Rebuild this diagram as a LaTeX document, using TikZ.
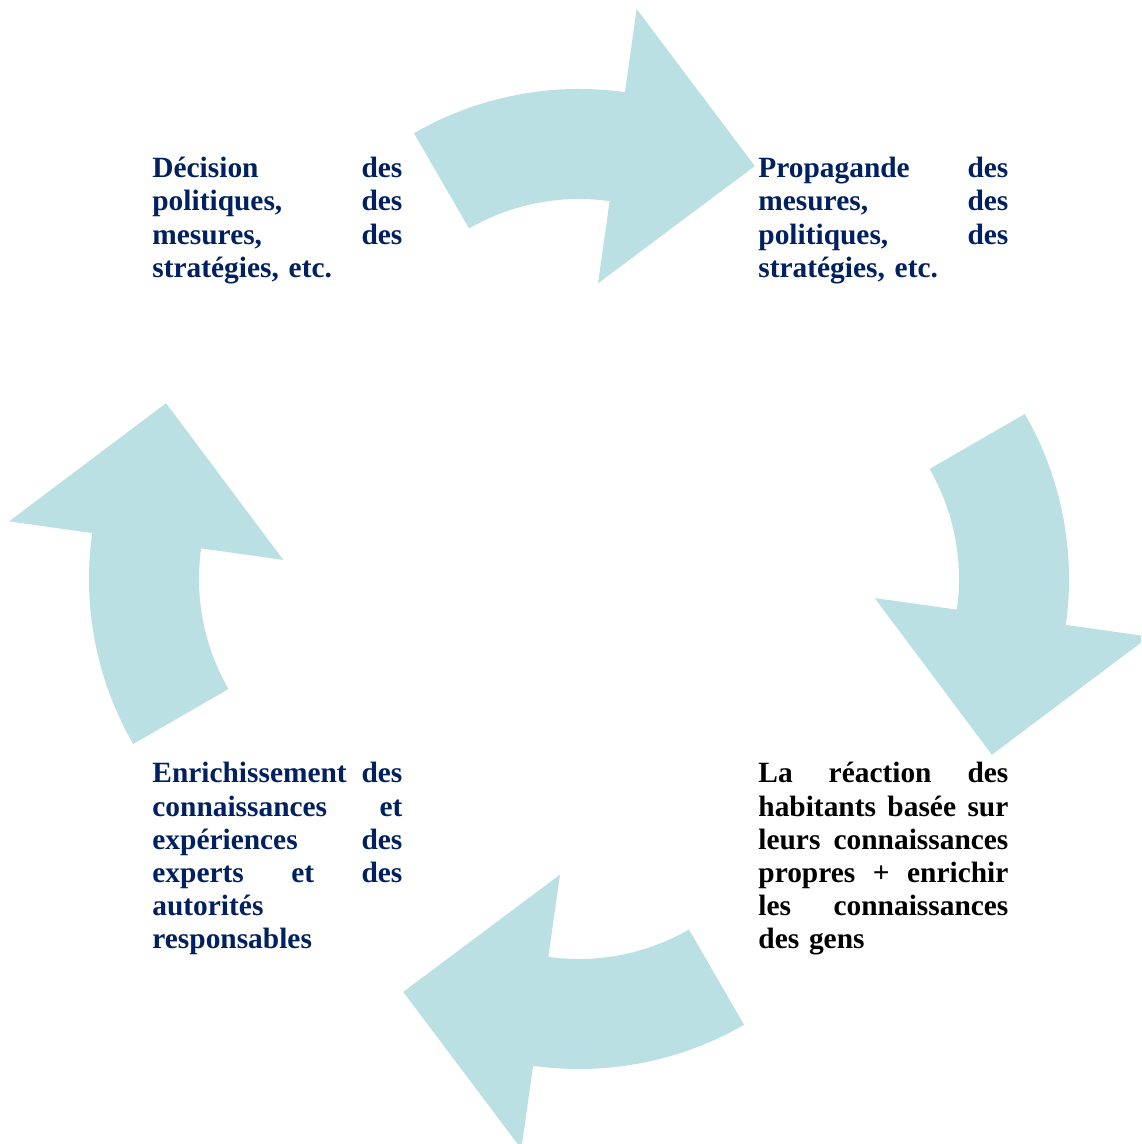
\documentclass[tikz,border=0pt]{standalone}
\usepackage{fontspec}
\setmainfont{Liberation Serif}
\usetikzlibrary{calc}
\definecolor{arrowteal}{RGB}{187,224,227}
\definecolor{navytext}{RGB}{0,32,96}
\setlength{\parindent}{0pt}
\begin{document}
\begin{tikzpicture}[x=0.5pt,y=0.5pt,
  arrowfill/.style={fill=arrowteal},
  cyclearrow/.pic={\fill[arrowfill] (120:330) arc[start angle=120,end angle=82,radius=330]
      -- (82:414) -- (55.2:308) -- (82:137) -- (82:220)
      arc[start angle=82,end angle=120,radius=220] -- cycle;},
  textblock/.style={inner sep=0pt, anchor=north west, text width=125pt, align=left,
      font=\fontsize{14.7pt}{16.6pt}\selectfont\bfseries}]
\useasboundingbox (0,0) rectangle (1141,1144);
\clip (0,0) rectangle (1141,1144);
\coordinate (G) at (579,565);
\pic at ($(G)+(0,160)$) {cyclearrow};
\pic[rotate=-90] at ($(G)+(160,0)$) {cyclearrow};
\pic[rotate=180] at ($(G)+(0,-160)$) {cyclearrow};
\pic[rotate=90] at ($(G)+(-160,0)$) {cyclearrow};

\node[textblock, text=navytext] (decision) at (152,989.9)
  {\strut Décision\hfill des\\ politiques,\hfill des\\ mesures,\hfill des\\ stratégies, etc.};
\node[textblock, text=navytext] (propagande) at (758,989.9)
  {\strut Propagande\hfill des\\ mesures,\hfill des\\ politiques,\hfill des\\ stratégies, etc.};
\node[textblock, text=navytext] (enrichissement) at (152,384.7)
  {\strut Enrichissement\hfill des\\ connaissances\hfill et\\ expériences\hfill des\\ experts\hfill et\hfill des\\ autorités\\ responsables};
\node[textblock, text=black] (reaction) at (758,384.7)
  {\strut La\hfill réaction\hfill des\\ habitants\hfill basée\hfill sur\\ leurs\hfill connaissances\\ propres\hfill +\hfill enrichir\\ les\hfill connaissances\\ des gens};
\end{tikzpicture}
\end{document}
